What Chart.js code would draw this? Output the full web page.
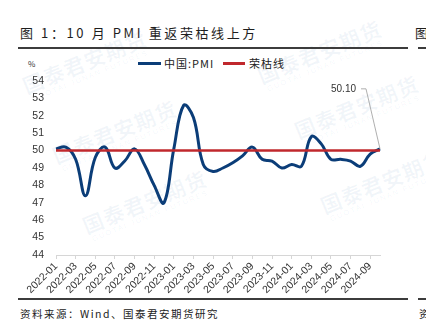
<!DOCTYPE html>
<html>
<head>
<meta charset="utf-8">
<script src="https://cdn.jsdelivr.net/npm/chart.js@4.4.0/dist/chart.umd.min.js"></script>
<style>
    body { margin: 0; width: 426px; height: 331px; background: #fff; overflow: hidden; position: relative;
           font-family: "Noto Sans CJK SC", "Liberation Sans", sans-serif; color: #222; }
    .abs { position: absolute; white-space: nowrap; }
    .title { left: 20px; top: 23px; font-size: 13px; line-height: 20px; letter-spacing: 2.6px; color: #1e1e1e; }
    .rule { position: absolute; height: 2px; background: #3c3c3c; }
    .src { font-size: 10.5px; line-height: 16px; letter-spacing: 1.5px; }
    .legend-text { font-size: 11px; line-height: 14px; letter-spacing: 1px; color: #222; }
    .swatch { position: absolute; height: 3px; }
    .wm { position: absolute; white-space: nowrap; transform: rotate(-22deg); color: rgba(40, 95, 165, 0.06); text-align: center; pointer-events: none; }
    .wm b { display: block; font-size: 21px; line-height: 22px; letter-spacing: 1px; }
    .wm i { display: block; font-style: normal; font-size: 7.5px; letter-spacing: 1.6px; font-family: "Liberation Sans", sans-serif; }
    #chart { position: absolute; left: 0; top: 51px; }
</style>
</head>
<body>
<!-- faint background watermarks -->
<div class="wm" style="left:20px;top:50px;"><b>国泰君安期货</b><i>GUOTAI JUNAN FUTURES</i></div>
<div class="wm" style="left:50px;top:120px;"><b>国泰君安期货</b><i>GUOTAI JUNAN FUTURES</i></div>
<div class="wm" style="left:80px;top:190px;"><b>国泰君安期货</b><i>GUOTAI JUNAN FUTURES</i></div>
<div class="wm" style="left:255px;top:40px;"><b>国泰君安期货</b><i>GUOTAI JUNAN FUTURES</i></div>
<div class="wm" style="left:292px;top:95px;"><b>国泰君安期货</b><i>GUOTAI JUNAN FUTURES</i></div>
<div class="wm" style="left:318px;top:170px;"><b>国泰君安期货</b><i>GUOTAI JUNAN FUTURES</i></div>

<div class="abs title">图 1：10 月 PMI 重返荣枯线上方</div>
<div class="abs title" style="left:415px;">图</div>
<div class="rule" style="left:18px;top:47px;width:390px;"></div>
<div class="rule" style="left:418px;top:47px;width:8px;"></div>

<div class="abs" style="left:28px;top:59px;font-size:8px;line-height:10px;color:#333;">%</div>
<div class="swatch" style="left:138px;top:62px;width:23px;background:#0b3d78;"></div>
<div class="abs legend-text" style="left:164px;top:56px;">中国:PMI</div>
<div class="swatch" style="left:223px;top:62px;width:22px;background:#c0282d;"></div>
<div class="abs legend-text" style="left:249px;top:56px;">荣枯线</div>

<canvas id="chart" width="410" height="245"></canvas>

<div class="rule" style="left:18px;top:298px;width:390px;"></div>
<div class="rule" style="left:418px;top:298px;width:8px;"></div>
<div class="abs src" style="left:20px;top:306px;">资料来源：Wind、国泰君安期货研究</div>
<div class="abs src" style="left:419px;top:306px;">资</div>

<script>
// months shown on the x axis (every other one gets a label)
const months = [
    '2022-01', '2022-02', '2022-03', '2022-04', '2022-05', '2022-06',
    '2022-07', '2022-08', '2022-09', '2022-10', '2022-11', '2022-12',
    '2023-01', '2023-02', '2023-03', '2023-04', '2023-05', '2023-06',
    '2023-07', '2023-08', '2023-09', '2023-10', '2023-11', '2023-12',
    '2024-01', '2024-02', '2024-03', '2024-04', '2024-05', '2024-06',
    '2024-07', '2024-08', '2024-09', '2024-10'
];

// China manufacturing PMI, %
const pmi = [
    50.1, 50.2, 49.5, 47.4, 49.6, 50.2, 49.0, 49.4, 50.1, 49.2, 48.0, 47.0,
    50.1, 52.6, 51.9, 49.2, 48.8, 49.0, 49.3, 49.7, 50.2, 49.5, 49.4, 49.0,
    49.2, 49.1, 50.8, 50.4, 49.5, 49.5, 49.4, 49.1, 49.8, 50.1
];

// boom / bust line
const boomBust = [
    50, 50, 50, 50, 50, 50, 50, 50, 50, 50, 50, 50,
    50, 50, 50, 50, 50, 50, 50, 50, 50, 50, 50, 50,
    50, 50, 50, 50, 50, 50, 50, 50, 50, 50
];

const yMin = 44;
const yMax = 54;

// label for the latest reading, with a thin leader line
const lastLabel = {
    id: 'lastLabel',
    afterDatasetsDraw(chart) {
        const meta = chart.getDatasetMeta(1);
        const pt = meta.data[meta.data.length - 1];
        const ctx = chart.ctx;
        const ty = chart.scales.y.getPixelForValue(53.55);
        ctx.save();
        ctx.strokeStyle = '#9a9a9a';
        ctx.lineWidth = 0.8;
        ctx.beginPath();
        ctx.moveTo(pt.x - 19, ty);
        ctx.lineTo(pt.x - 14, ty);
        ctx.lineTo(pt.x, pt.y);
        ctx.stroke();
        ctx.fillStyle = '#333';
        ctx.font = '10px "Liberation Sans", sans-serif';
        ctx.textAlign = 'right';
        ctx.textBaseline = 'middle';
        ctx.fillText(pmi[pmi.length - 1].toFixed(2), pt.x - 24, ty);
        ctx.restore();
    }
};

new Chart(document.getElementById('chart'), {
    type: 'line',
    data: {
        labels: months,
        datasets: [{
            label: '荣枯线',
            data: boomBust,
            borderColor: '#c0282d',
            borderWidth: 2.5,
            pointRadius: 0,
            tension: 0,
            order: 0
        }, {
            label: '中国:PMI',
            data: pmi,
            borderColor: '#0b3d78',
            borderWidth: 3,
            pointRadius: 0,
            tension: 0.4,
            clip: false,
            order: 1
        }]
    },
    options: {
        responsive: false,
        animation: false,
        layout: { padding: { top: 30, right: 30, bottom: 0, left: 0 } },
        plugins: {
            legend: { display: false },
            tooltip: { enabled: false }
        },
        scales: {
            x: {
                offset: false,
                grid: {
                    drawOnChartArea: false,
                    drawTicks: true,
                    tickLength: 4,
                    color: '#d6d6d6'
                },
                border: { color: '#d6d6d6' },
                ticks: {
                    autoSkip: false,
                    maxRotation: 45,
                    minRotation: 45,
                    padding: 1,
                    color: '#333',
                    font: { family: 'Liberation Sans', size: 10.5 },
                    callback: function (v, i) {
                        return i % 2 === 0 ? this.getLabelForValue(v) : null;
                    }
                },
                afterFit(s) { s.height = 41; }
            },
            y: {
                min: yMin,
                max: yMax,
                grid: { display: false, drawTicks: false },
                border: { display: false },
                ticks: {
                    stepSize: 1,
                    padding: 12,
                    color: '#333',
                    font: { family: 'Liberation Sans', size: 10.5 }
                },
                afterFit(s) { s.width = 56; }
            }
        }
    },
    plugins: [lastLabel]
});
</script>
</body>
</html>
